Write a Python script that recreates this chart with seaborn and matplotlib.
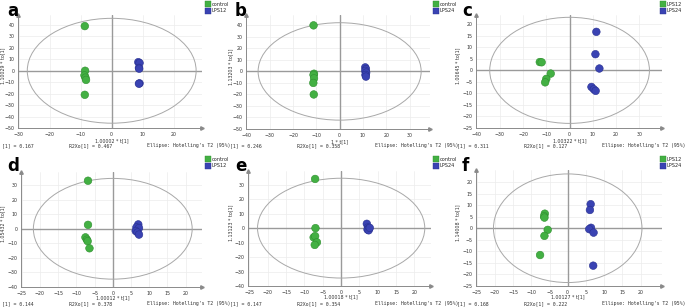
import numpy as np
import pandas as pd
import matplotlib
matplotlib.use("Agg")
import matplotlib.pyplot as plt
import seaborn as sns
from matplotlib.patches import Ellipse
from matplotlib.lines import Line2D
from matplotlib.ticker import AutoMinorLocator

# ---------------- data ----------------
panel_letters = ["a", "b", "c", "d", "e", "f"]
group_names = [("control", "LPS12"), ("control", "LPS24"), ("LPS12", "LPS24"),
               ("control", "LPS12"), ("control", "LPS24"), ("LPS12", "LPS24")]

a_g1_t = [-8.7, -8.6, -8.8, -8.5, -8.3, -8.7]
a_g1_to = [39, 0, -4, -6, -8, -21]
a_g2_t = [8.6, 9.0, 8.8, 8.9, 9.0, 8.8]
a_g2_to = [7.5, 6.8, 2.5, 1.8, -11, -11.3]

b_g1_t = [-11.2, -11.0, -11.2, -11.0, -11.3, -11.1]
b_g1_to = [40, -2, -3, -6, -10, -20]
b_g2_t = [11.0, 11.3, 11.0, 11.4, 11.1, 11.3]
b_g2_to = [3.5, 2, 0.5, -1, -3, -4.5]

c_g1_t = [-12.8, -12.0, -8.1, -10.0, -10.5]
c_g1_to = [3.6, 3.5, -1.4, -3.7, -5.2]
c_g2_t = [11.5, 11.1, 12.8, 9.4, 10.4, 11.2]
c_g2_to = [16.7, 7.0, 0.8, -7.2, -8.2, -8.9]

d_g1_t = [-6.8, -6.8, -7.5, -7.1, -6.9, -6.4]
d_g1_to = [33, 2.7, -5.9, -7.5, -8.5, -13.4]
d_g2_t = [7.0, 6.5, 7.2, 6.3, 6.8, 7.2]
d_g2_to = [3, 1, 0.5, -1.5, -2.5, -4]

e_g1_t = [-7.1, -7.0, -7.5, -7.1, -6.6, -7.2]
e_g1_to = [34, 0, -6.4, -5.5, -9.8, -11.6]
e_g2_t = [7.0, 7.3, 7.6, 7.2, 7.5, 7.8]
e_g2_to = [3, 0.5, 0, -1, -1.5, 0.2]

f_g1_t = [-6.3, -6.5, -6.4, -5.5, -6.4, -7.6]
f_g1_to = [6.3, 5.2, 4.6, -0.7, -3.3, -11.6]
f_g2_t = [6.3, 6.1, 6.4, 5.9, 7.1, 7.0]
f_g2_to = [10.4, 7.9, 0.2, -0.4, -1.9, -16.2]

r2x = [0.167, 0.246, 0.311, 0.144, 0.147, 0.168]
r2xo = [0.467, 0.358, 0.127, 0.378, 0.354, 0.222]
ellipse_t = [27.3, 35.0, 34.3, 21.8, 22.8, 20.4]
ellipse_to = [45.8, 42.3, 23.0, 34.6, 34.5, 23.5]
x_labels = ["1.00002 * t[1]", "1 * t[1]", "1.00322 * t[1]",
            "1.00012 * t[1]", "1.00018 * t[1]", "1.00127 * t[1]"]
y_labels = ["1.10029 * to[1]", "1.13203 * to[1]", "1.00645 * to[1]",
            "1.05432 * to[1]", "1.13123 * to[1]", "1.14008 * to[1]"]
x_ticks = [list(range(-30, 21, 10)), list(range(-40, 31, 10)), list(range(-40, 31, 10)),
           list(range(-25, 21, 5)), list(range(-25, 21, 5)), list(range(-25, 21, 5))]
y_ticks = [list(range(-50, 41, 10)), list(range(-50, 41, 10)), list(range(-25, 21, 5)),
           list(range(-40, 31, 10)), list(range(-40, 31, 10)), list(range(-25, 21, 5))]

scores = [(a_g1_t, a_g1_to, a_g2_t, a_g2_to), (b_g1_t, b_g1_to, b_g2_t, b_g2_to),
          (c_g1_t, c_g1_to, c_g2_t, c_g2_to), (d_g1_t, d_g1_to, d_g2_t, d_g2_to),
          (e_g1_t, e_g1_to, e_g2_t, e_g2_to), (f_g1_t, f_g1_to, f_g2_t, f_g2_to)]

# ---------------- layout (pixels) ----------------
W, H = 685, 307
axes_px = [(18, 15, 202, 128), (246, 15, 430, 129), (476, 15, 662, 128),
           (21, 172, 202, 287), (248, 171, 431, 286), (476, 170, 662, 286)]
xlims = [(-30.3, 29.2), (-40.2, 38.8), (-40.2, 39.7), (-25.2, 24.5), (-25.4, 24.5), (-25.2, 25.9)]
ylims = [(-50, 48.7), (-50, 49), (-25, 24), (-40, 39), (-40, 39.5), (-25, 25.2)]
panel_x0 = [0, 228, 455, 0, 228, 455]
panel_y0 = [0, 0, 0, 155, 155, 155]
footer_y = [145.5, 145.5, 145.5, 303.5, 303.5, 303.5]
xlabel_off = [-9.0, -9.0, -9.0, -7.9, -7.9, -7.9]

GREEN = "#43b043"
BLUE = "#3a43b3"
GREEN_E = "#2f8f2f"
BLUE_E = "#283090"
SPINE = "#8a8a8a"
TXT = "#333333"

sns.set_style("white")
plt.rcParams["font.family"] = ["DejaVu Sans"]

fig = plt.figure(figsize=(W / 100, H / 100), dpi=100)

for i in range(6):
    l, t, r, b = axes_px[i]
    ax = fig.add_axes([l / W, 1 - b / H, (r - l) / W, (b - t) / H])
    g1t, g1o, g2t, g2o = scores[i]
    n1, n2 = group_names[i]
    df = pd.DataFrame({
        "t": list(g1t) + list(g2t),
        "to": list(g1o) + list(g2o),
        "group": [n1] * len(g1t) + [n2] * len(g2t),
    })
    ax.set_xlim(*xlims[i])
    ax.set_ylim(*ylims[i])
    ax.set_xticks(x_ticks[i])
    ax.set_yticks(y_ticks[i])
    ax.xaxis.set_minor_locator(AutoMinorLocator(2))
    ax.yaxis.set_minor_locator(AutoMinorLocator(2))
    ax.grid(True, which="major", color="#ececec", lw=0.5, zorder=0)
    ax.axhline(0, color="#9a9a9a", lw=1.0, zorder=1)
    ax.axvline(0, color="#9a9a9a", lw=1.0, zorder=1)
    ax.add_patch(Ellipse((0, 0), 2 * ellipse_t[i], 2 * ellipse_to[i], fill=False,
                         ec="#a8a8a8", lw=0.7, zorder=2))
    sns.scatterplot(data=df, x="t", y="to", hue="group",
                    palette={n1: GREEN, n2: BLUE}, s=30, linewidth=0.4,
                    edgecolor=[GREEN_E] * len(g1t) + [BLUE_E] * len(g2t),
                    legend=False, ax=ax, zorder=3)
    for sp in ["top", "right"]:
        ax.spines[sp].set_visible(False)
    for sp in ["left", "bottom"]:
        ax.spines[sp].set_color(SPINE)
        ax.spines[sp].set_linewidth(0.7)
    ax.plot([1], [0], marker=">", ms=2.5, color=SPINE, transform=ax.transAxes, clip_on=False)
    ax.plot([0], [1], marker="^", ms=2.5, color=SPINE, transform=ax.transAxes, clip_on=False)
    ax.tick_params(axis="both", which="major", labelsize=3.4, length=1.6, width=0.5,
                   color=SPINE, labelcolor=TXT, pad=1.0)
    ax.tick_params(axis="both", which="minor", length=1.0, width=0.4, color=SPINE)
    ax.set_xlabel("")
    x0, y0 = panel_x0[i], panel_y0[i]
    ax.set_ylabel(y_labels[i], fontsize=3.4, color=TXT)
    ax.yaxis.set_label_coords((x0 + 5 - l) / (r - l), 0.55)
    ax.annotate(x_labels[i], xy=(0, 0), xycoords=("data", "axes fraction"),
                xytext=(0, xlabel_off[i]), textcoords="offset points", ha="center",
                va="center", fontsize=3.4, color=TXT)

    # panel letter
    fig.text((x0 + 7) / W, 1 - (y0 + 2) / H, panel_letters[i], fontsize=12,
             fontweight="bold", ha="left", va="top", color="black")
    # legend
    handles = [Line2D([], [], ls="", marker="s", ms=4, mfc=GREEN, mec=GREEN_E, mew=0.3),
               Line2D([], [], ls="", marker="s", ms=4, mfc=BLUE, mec=BLUE_E, mew=0.3)]
    fig.legend(handles, [n1, n2], loc="upper left",
               bbox_to_anchor=((x0 + 206) / W, 1 - (y0 + 2) / H),
               frameon=False, fontsize=3.6, handlelength=0.8, handletextpad=0.3,
               labelspacing=0.25, borderpad=0, borderaxespad=0)
    # footer
    fy = 1 - footer_y[i] / H
    fig.text((x0 + 2) / W, fy, f"[1] = {r2x[i]:.3f}", fontsize=3.5, color=TXT,
             family="DejaVu Sans Mono", va="center")
    fig.text((x0 + 69) / W, fy, f"R2Xo[1] = {r2xo[i]:.3f}", fontsize=3.5, color=TXT,
             family="DejaVu Sans Mono", va="center")
    fig.text((x0 + 147) / W, fy, "Ellipse: Hotelling's T2 (95%)", fontsize=3.5, color=TXT,
             family="DejaVu Sans Mono", va="center")

fig.savefig("out.png", dpi=100)
